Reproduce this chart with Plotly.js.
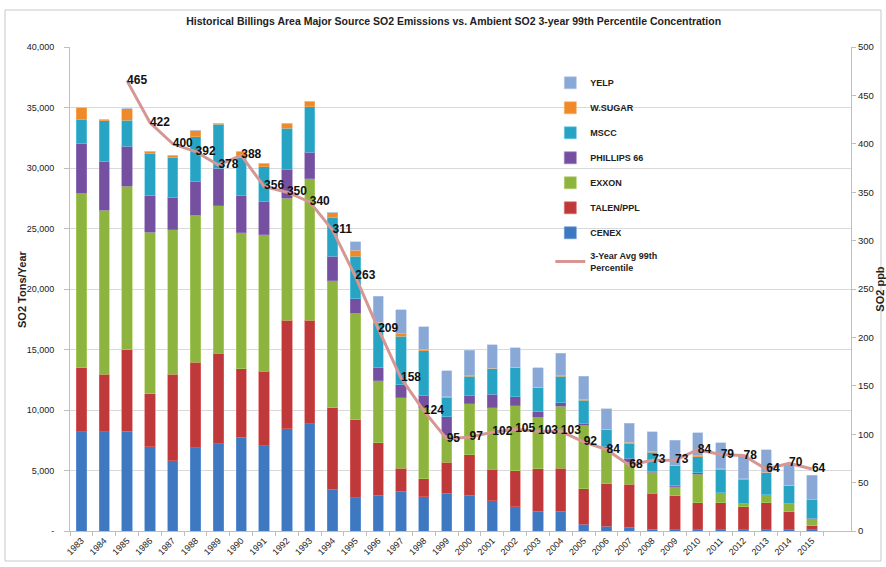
<!DOCTYPE html>
<html>
<head>
<meta charset="utf-8">
<script src="https://cdn.plot.ly/plotly-3.0.1.min.js"></script>
<style>html,body{margin:0;padding:0;background:#fff;}#chart{width:886px;height:567px;}</style>
</head>
<body>
<div id="chart"></div>
<script>
const years = ['1983','1984','1985','1986','1987','1988','1989','1990','1991','1992','1993','1994','1995','1996','1997','1998','1999','2000','2001','2002','2003','2004','2005','2006','2007','2008','2009','2010','2011','2012','2013','2014','2015'];

const cenex    = [8200,8200,8250,6950,5800,6900,7200,7750,7050,8450,8850,3450,2750,2950,3300,2850,3100,2950,2500,2000,1650,1650,550,400,300,150,100,100,100,100,100,100,100];
const talen    = [5300,4750,6750,4400,7150,7050,7500,5650,6150,8950,8550,6750,6450,4350,1900,1450,2600,3350,2600,3000,3500,3550,2950,3500,3550,2950,2800,2250,2250,1900,2250,1500,350];
const exxon    = [14400,13550,13500,13350,11950,12150,12200,11250,11300,10100,11700,10500,8800,5100,5800,5900,2200,4200,5100,5350,4250,5100,5250,2900,1850,1750,750,2350,750,300,650,700,550];
const phillips = [4100,4000,3300,3000,2700,2800,3100,3050,2700,2400,2200,2000,1200,1100,1100,1000,1550,700,1100,750,450,300,150,200,300,50,100,100,50,0,0,0,50];
const mscc     = [2050,3400,2150,3500,3300,3700,3600,3200,2900,3400,3750,3200,3500,3700,4000,3700,1550,1600,2100,2400,2000,2200,1900,1350,1200,1600,1650,1350,1950,1950,1800,1450,1550];
const wsugar   = [950,100,950,200,150,500,100,450,300,400,450,400,500,50,200,100,100,50,50,50,50,50,70,50,150,100,50,50,50,50,50,50,0];
const yelp     = [0,0,0,0,0,0,0,0,0,0,0,0,700,2150,2000,1900,2150,2100,1950,1600,1600,1850,1930,1700,1550,1600,2050,1900,2150,2000,1850,1700,2000];

const avgYears = years.slice(2);
const avg99    = [465,422,400,392,378,388,356,350,340,311,263,209,158,124,95,97,102,105,103,103,92,84,68,73,73,84,79,78,64,70,64];

const leftTickVals = [0,5000,10000,15000,20000,25000,30000,35000,40000];
const leftTickText = ['-','5,000','10,000','15,000','20,000','25,000','30,000','35,000','40,000'];

const FONT = '"Liberation Sans", Arial, sans-serif';

function barTrace(name, vals, color, lineColor, rank) {
  return {
    type: 'bar', name: name, x: years, y: vals, legendgroup: name, legendrank: rank,
    marker: {color: color, line: {color: lineColor, width: 0.6}},
    hoverinfo: 'x+y+name'
  };
}

const lineTrace = {
  type: 'scatter', mode: 'lines+text', name: '3-Year Avg 99th<br>Percentile',
  legendgroup: 'avg', legendrank: 8,
  x: avgYears, y: avg99, yaxis: 'y2',
  text: avg99.map(String), textposition: 'middle right',
  textfont: {family: FONT, size: 12, color: '#111', weight: 'bold'},
  line: {color: 'rgb(214,150,148)', width: 3},
  cliponaxis: false
};

const data = [
  barTrace('CENEX', cenex, '#3d78c0', '#6a9ad6', 7),
  barTrace('TALEN/PPL', talen, '#c0393a', '#e06c6a', 6),
  barTrace('EXXON', exxon, '#8cb43e', '#b2d26a', 5),
  barTrace('PHILLIPS 66', phillips, '#7650a0', '#9a7cc0', 4),
  barTrace('MSCC', mscc, '#27a3c4', '#6ccbe2', 3),
  barTrace('W.SUGAR', wsugar, '#f08a28', '#f8b068', 2),
  barTrace('YELP', yelp, '#8aa8d6', '#b4c8e8', 1),
  lineTrace
];

const layout = {
  width: 886, height: 567,
  margin: {l: 70, r: 35, t: 47, b: 36},
  paper_bgcolor: '#ffffff', plot_bgcolor: '#ffffff',
  font: {family: FONT, size: 10, color: '#222'},
  barmode: 'stack', bargap: 0.55,
  title: {
    text: '<b>Historical Billings Area Major Source SO2 Emissions vs. Ambient SO2 3-year 99th Percentile Concentration</b>',
    font: {family: FONT, size: 10.5, color: '#222'},
    x: 0.512, xanchor: 'center', y: 0.962, yanchor: 'middle'
  },
  xaxis: {
    type: 'category', categoryorder: 'array', categoryarray: years,
    tickangle: -45, tickfont: {size: 9, color: '#222'},
    showgrid: false, showline: true, linecolor: '#bfbfbf', linewidth: 1,
    ticks: 'outside', tickson: 'boundaries', ticklen: 4, tickcolor: '#bfbfbf',
    automargin: false
  },
  yaxis: {
    range: [0, 40000], tickvals: leftTickVals, ticktext: leftTickText,
    showgrid: true, gridcolor: '#d9d9d9', gridwidth: 1,
    showline: true, linecolor: '#bfbfbf', ticks: 'outside', ticklen: 5, tickcolor: '#bfbfbf',
    tickfont: {size: 9, color: '#222'}, ticklabelstandoff: 8,
    zeroline: false, automargin: false
  },
  yaxis2: {
    overlaying: 'y', side: 'right', range: [0, 500], dtick: 50,
    showgrid: false, showline: true, linecolor: '#bfbfbf', ticks: 'outside', ticklen: 4, tickcolor: '#bfbfbf',
    tickfont: {size: 9.5, color: '#222'}, zeroline: false, automargin: false,
    title: {text: '<b>SO2 ppb</b>', font: {size: 11, color: '#222'}, standoff: 4}
  },
  annotations: [{
    text: '<b>SO2 Tons/Year</b>', textangle: -90, showarrow: false,
    xref: 'paper', yref: 'paper', x: -48/781, y: 0.5, xanchor: 'center', yanchor: 'middle',
    font: {family: FONT, size: 11, color: '#222'}
  }],
  legend: {
    x: 0.615, y: 0.956, xanchor: 'left', yanchor: 'top',
    traceorder: 'grouped', tracegroupgap: 6,
    font: {family: FONT, size: 9, color: '#222', weight: 'bold'},
    bgcolor: 'rgba(255,255,255,0)', itemwidth: 30
  },
  shapes: [{
    type: 'rect', xref: 'paper', yref: 'paper',
    x0: -65/781, x1: 1 + 30/781, y0: -30/484, y1: 1 + 37/484,
    line: {color: '#c8c8c8', width: 1}
  }],
  showlegend: true
};

Plotly.newPlot('chart', data, layout, {displayModeBar: false, staticPlot: true});
</script>
</body>
</html>
